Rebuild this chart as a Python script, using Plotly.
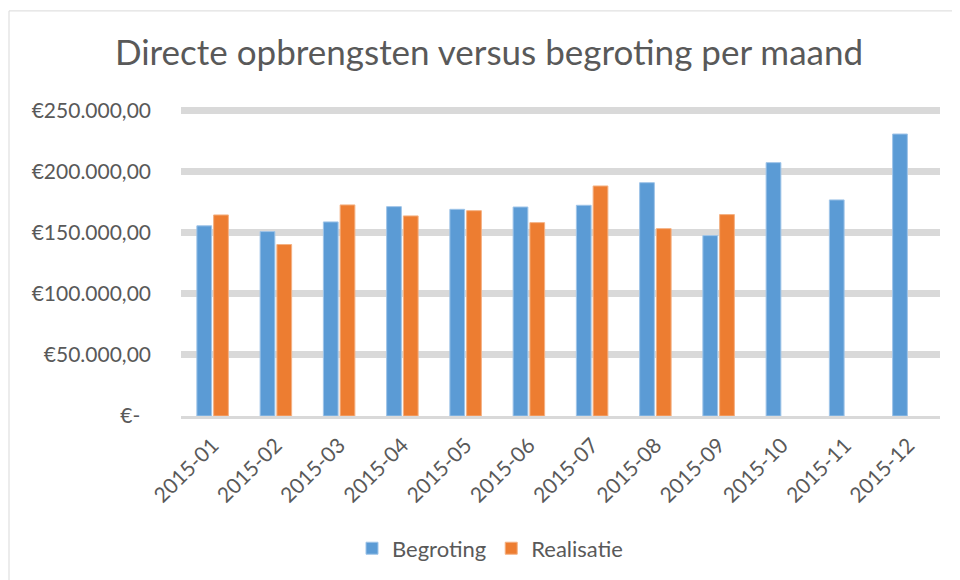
import plotly.graph_objects as go

months = ["2015-01", "2015-02", "2015-03", "2015-04", "2015-05", "2015-06",
          "2015-07", "2015-08", "2015-09", "2015-10", "2015-11", "2015-12"]
begroting = [155600, 150900, 158800, 171300, 169100, 171000,
             172400, 190900, 147600, 207300, 176800, 230700]
realisatie = [164500, 140300, 172700, 163700, 168000, 158200,
              188200, 153300, 164800, None, None, None]
tick_vals = [0, 50000, 100000, 150000, 200000, 250000]
tick_text = ["€-\u00a0\u00a0", "€50.000,00", "€100.000,00", "€150.000,00", "€200.000,00", "€250.000,00"]

FONT = "Lato, Carlito, Calibri, sans-serif"
TXT = "#595959"

fig = go.Figure()
fig.add_trace(go.Bar(x=months, y=begroting, name="Begroting",
                     marker=dict(color="#5b9bd5", line=dict(color="#9fc4e8", width=1))))
fig.add_trace(go.Bar(x=months, y=realisatie, name="Realisatie",
                     marker=dict(color="#ed7d31", line=dict(color="#f4b183", width=1))))

# page body has an 8px margin: figure coordinates = page coordinates - 8
OFF = 8
W, H = 960 - OFF, 580 - OFF
L = 181 - OFF
R = W - (940 - OFF)
T = 108 - OFF
B = H - (415.7 - OFF)
pw = W - L - R
ph = H - T - B

fig.update_layout(
    width=W, height=H,
    margin=dict(l=L, r=R, t=T, b=B, pad=0, autoexpand=False),
    paper_bgcolor="white", plot_bgcolor="white",
    barmode="group", bargap=0.47, bargroupgap=0.12,
    font=dict(family=FONT, color=TXT),
    title=dict(text="Directe opbrengsten versus begroting per maand",
               font=dict(family=FONT, size=35, color=TXT),
               x=(489 - OFF) / W, xref="container", xanchor="center",
               y=1 - (53 - OFF) / H, yref="container", yanchor="middle"),
    legend=dict(orientation="h", x=((490 - OFF) - L) / pw, xanchor="center",
                y=(H - B - (548 - OFF)) / ph, yref="paper", yanchor="middle",
                font=dict(family=FONT, size=22, color=TXT),
                itemwidth=30, traceorder="normal"),
    showlegend=True,
)
fig.update_xaxes(type="category", tickangle=-45,
                 tickfont=dict(family=FONT, size=21, color=TXT),
                 showgrid=False, showline=True, linecolor="#d9d9d9", linewidth=2.5,
                 ticks="", ticklabelstandoff=6, automargin=False)
fig.update_yaxes(range=[0, 252000], tickvals=tick_vals, ticktext=tick_text,
                 tickfont=dict(family=FONT, size=21, color=TXT),
                 showgrid=True, gridcolor="#d9d9d9", gridwidth=7,
                 zeroline=False, showline=False, ticks="", ticklabelstandoff=29,
                 automargin=False)

# outer chart area frame
fig.add_shape(type="rect", xref="paper", yref="paper",
              x0=((9 - OFF) - L) / pw, x1=(W + 10 - L) / pw,
              y0=(H - B - (H + 10)) / ph, y1=(H - B - (11 - OFF)) / ph,
              line=dict(color="#d9d9d9", width=1), fillcolor="rgba(0,0,0,0)", layer="below")

fig.write_html("out.html")
